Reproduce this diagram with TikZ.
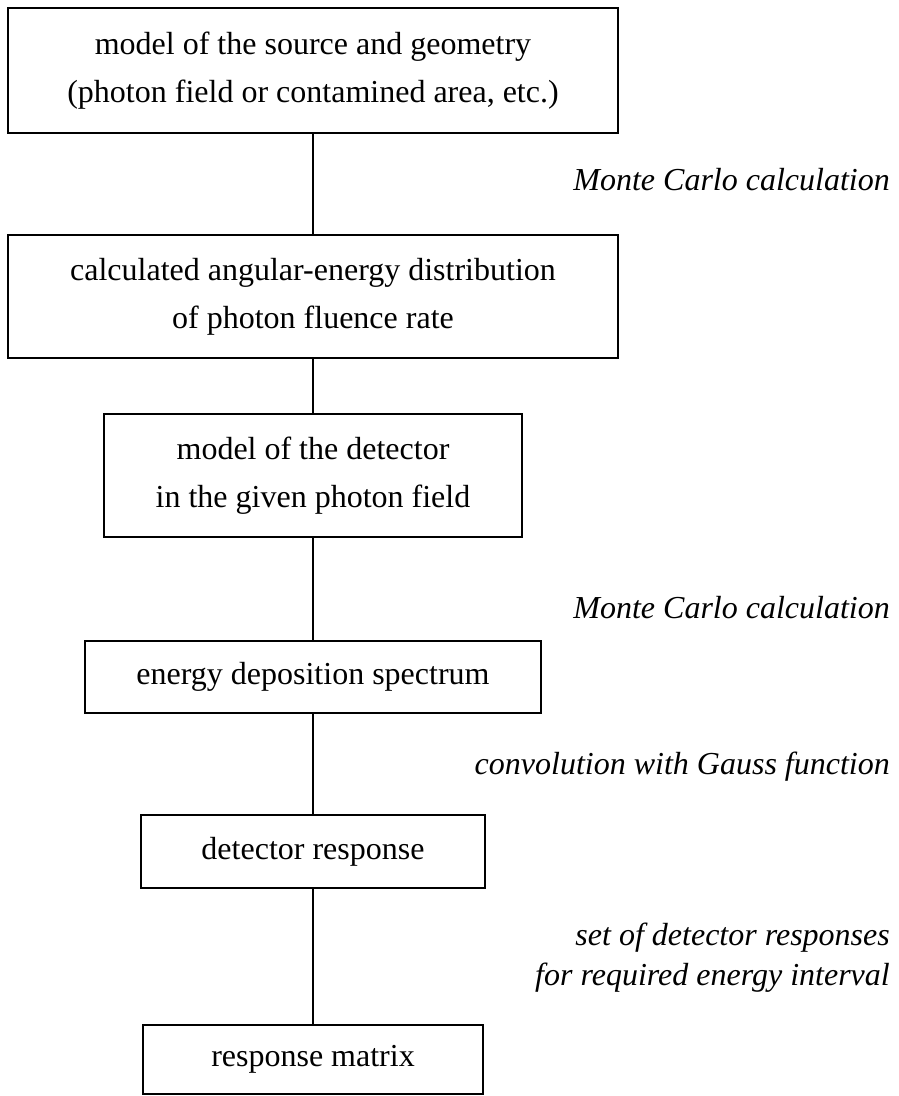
\documentclass[tikz,border=0pt]{standalone}
\usepackage{fontspec}
\setmainfont{Liberation Serif}
\begin{document}
\begin{tikzpicture}[x=1pt,y=-1pt,
  stagebox/.style={draw=black,line width=2.2pt,inner sep=0pt,align=center,
    font=\fontsize{32}{48}\selectfont},
  calclabel/.style={inner sep=0pt,anchor=east,align=right,
    font=\itshape\fontsize{32}{40}\selectfont},
  flowline/.style={draw=black,line width=2.2pt}]
\path[use as bounding box] (0,0) rectangle (899,1096);
\path[fill=white,draw=none] (0,0) rectangle (899,1096);
% chain of stages
\node[stagebox,minimum width=610,minimum height=125] (source) at (313,70.5) {model of the source and geometry\\(photon field or contamined area, etc.)};
\node[stagebox,minimum width=610,minimum height=123] (fluence) at (313,296.5) {calculated angular-energy distribution\\of photon fluence rate};
\node[stagebox,minimum width=418,minimum height=123] (detmodel) at (313,475.5) {model of the detector\\in the given photon field};
\node[stagebox,minimum width=456,minimum height=72] (deposition) at (313,677) {energy deposition spectrum};
\node[stagebox,minimum width=344,minimum height=73] (response) at (313,851.5) {detector response};
\node[stagebox,minimum width=340,minimum height=69] (matrix) at (313,1059.5) {response matrix};
% labels on the right
\node[calclabel] (mcsource) at (890,180) {Monte Carlo calculation};
\node[calclabel] (mcdetector) at (890,608) {Monte Carlo calculation};
\node[calclabel] (gauss) at (890,767) {convolution with Gauss function};
\node[calclabel] (interval) at (890,958) {set of detector responses\\for required energy interval};
% connectors
\draw[flowline] (source) -- (fluence);
\draw[flowline] (fluence) -- (detmodel);
\draw[flowline] (detmodel) -- (deposition);
\draw[flowline] (deposition) -- (response);
\draw[flowline] (response) -- (matrix);
\end{tikzpicture}
\end{document}
